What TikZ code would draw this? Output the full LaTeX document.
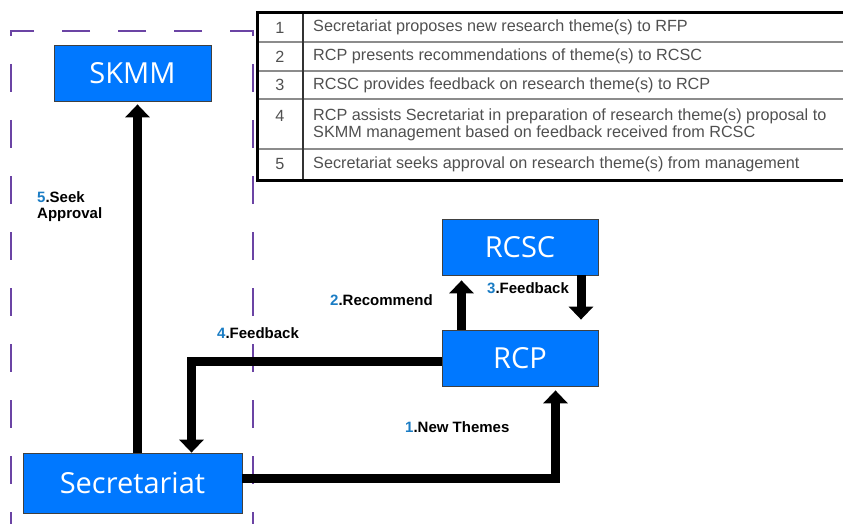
\documentclass[tikz,border=0pt]{standalone}
\usepackage{fontspec}
\usepackage{tikz}
\usetikzlibrary{arrows.meta}
\newfontfamily\boxfont{Open Sans}
\newfontfamily\tabfont{Liberation Sans}
\definecolor{boxblue}{RGB}{0,120,255}
\definecolor{numblue}{RGB}{26,124,196}
\definecolor{dashpurple}{RGB}{107,68,164}
\definecolor{tabgray}{RGB}{80,80,80}
\newcommand{\stepnum}[1]{\textcolor{numblue}{#1}}

\begin{document}
\begin{tikzpicture}[x=1pt,y=-1pt,
    unit/.style={draw=black!75, line width=0.8pt, fill=boxblue, text=white,
      font=\boxfont\fontsize{29}{32}\selectfont, inner sep=0pt},
    flow/.style={line width=9pt, miter limit=4,
      -{Triangle[width=24pt,length=13pt]}},
    lbl/.style={font=\tabfont\bfseries\fontsize{15}{16}\selectfont,
      inner sep=0pt, align=left},
    cell/.style={font=\tabfont\fontsize{16.2}{17}\selectfont, text=tabgray,
      inner sep=0pt, align=left},
    rowline/.style={draw=black!45, line width=2pt}]
    \useasboundingbox (0,0) rectangle (843,524);
    \draw[dashpurple, line width=2pt, dash pattern=on 28pt off 28pt]
        (253,540) -- (253,31) -- (11,31) -- (11,540);

    \draw[rowline] (257,42) -- (845,42);
    \draw[rowline] (257,71) -- (845,71);
    \draw[rowline] (257,99) -- (845,99);
    \draw[rowline] (257,149) -- (845,149);
    \draw[line width=1.2pt, black!80] (303,13) -- (303,180);
    \draw[line width=3pt] (848,13) -- (257,13) -- (257,180) -- (848,180);

    \node[cell] (n1) at (280,27.5) {1};
    \node[cell] (n2) at (280,56.5) {2};
    \node[cell] (n3) at (280,85) {3};
    \node[cell] (n4) at (280,116) {4};
    \node[cell] (n5) at (280,164.5) {5};
    \node[cell, anchor=west] (t1) at (313,27.5) {Secretariat proposes new research theme(s) to RFP};
    \node[cell, anchor=west] (t2) at (313,56.5) {RCP presents recommendations of theme(s) to RCSC};
    \node[cell, anchor=west] (t3) at (313,85) {RCSC provides feedback on research theme(s) to RCP};
    \node[cell, anchor=west] (t4) at (313,124.5) {RCP assists Secretariat in preparation of research theme(s) proposal to\\SKMM management based on feedback received from RCSC};
    \node[cell, anchor=west] (t5) at (313,164.5) {Secretariat seeks approval on research theme(s) from management};

    \node[unit, minimum width=157pt, minimum height=56pt] (skmm) at (132.5,73) {SKMM};
    \node[unit, minimum width=156pt, minimum height=56pt] (rcsc) at (520,247) {RCSC};
    \node[unit, minimum width=156pt, minimum height=56pt] (rcp) at (520,358) {RCP};
    \node[unit, minimum width=219pt, minimum height=60pt] (sec) at (132.5,483) {Secretariat};

    \draw[flow] ([xshift=5pt]sec.north) -- ([xshift=5pt,yshift=-3pt]skmm.south);
    \draw[flow] ([xshift=-58.5pt]rcp.north) -- ([xshift=-58.5pt,yshift=-5pt]rcsc.south);
    \draw[flow] ([xshift=61pt]rcsc.south) -- ([xshift=61pt,yshift=10pt]rcp.north);
    \draw[flow] ([yshift=-3pt]rcp.west) -| ([xshift=59pt]sec.north);
    \draw[flow] ([yshift=5pt]sec.east) -| ([xshift=35.5pt,yshift=-4pt]rcp.south);

    \node[lbl, anchor=north west] (l5) at (37,191) {\stepnum{5}.Seek\\Approval};
    \node[lbl, anchor=west] (l2) at (330,300) {\stepnum{2}.Recommend};
    \node[lbl, anchor=west] (l3) at (487,288) {\stepnum{3}.Feedback};
    \node[lbl, anchor=west] (l4) at (217,333) {\stepnum{4}.Feedback};
    \node[lbl, anchor=west] (l1) at (405,427) {\stepnum{1}.New Themes};
\end{tikzpicture}
\end{document}
